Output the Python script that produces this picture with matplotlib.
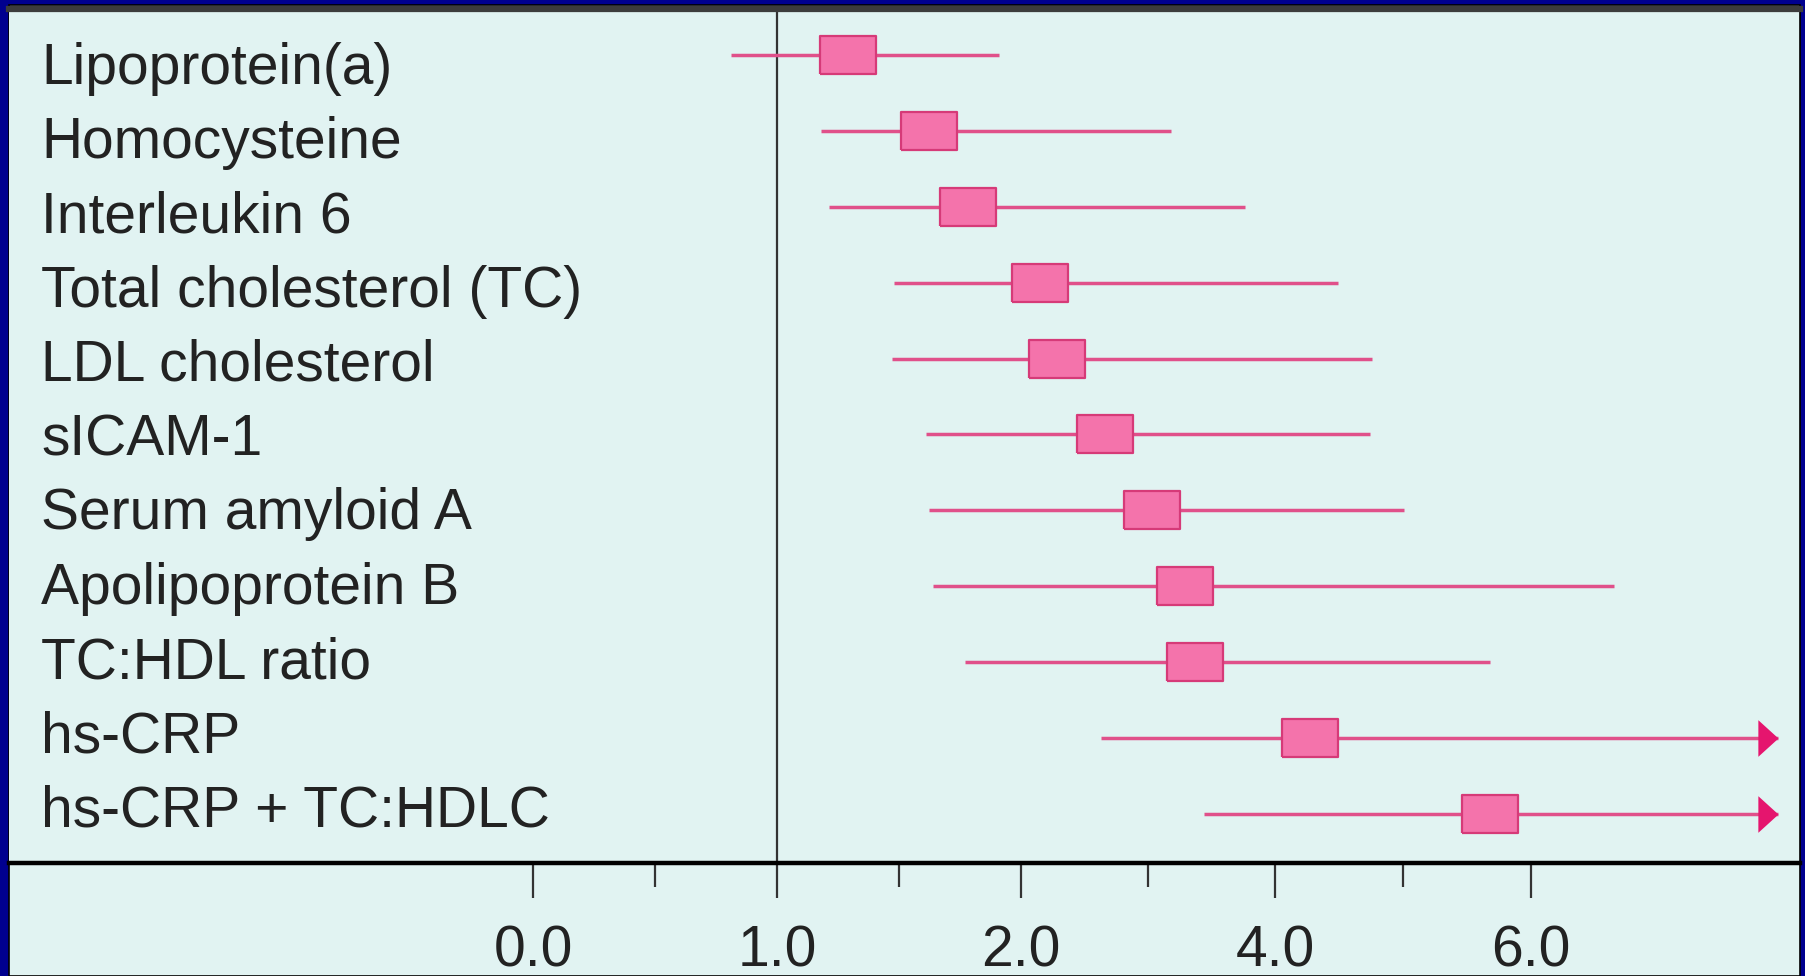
import numpy as np
import matplotlib
matplotlib.use('Agg')
import matplotlib.pyplot as plt
from matplotlib.patches import Rectangle

plt.rcParams['font.family'] = ['Liberation Sans', 'DejaVu Sans']

# Markers and their relative-risk estimates
markers = ['Lipoprotein(a)', 'Homocysteine', 'Interleukin 6', 'Total cholesterol (TC)',
           'LDL cholesterol', 'sICAM-1', 'Serum amyloid A', 'Apolipoprotein B',
           'TC:HDL ratio', 'hs-CRP', 'hs-CRP + TC:HDLC']
rr_mid = [1.29, 1.62, 1.78, 2.15, 2.28, 2.66, 3.03, 3.29, 3.37, 4.27, 5.68]
rr_lo = [0.81, 1.18, 1.21, 1.48, 1.47, 1.61, 1.62, 1.64, 1.77, 2.63, 3.44]
rr_hi = [1.91, 3.18, 3.76, 4.49, 4.76, 4.74, 5.01, 6.65, 5.68, 7.93, 7.93]
open_ended = [False, False, False, False, False, False, False, False, False, True, True]

tick_values = [0, 1, 2, 4, 6]
tick_labels = ['0.0', '1.0', '2.0', '4.0', '6.0']
minor_values = [0.5, 1.5, 3, 5]

# the printed axis puts its labelled ticks almost evenly apart
tick_pos = [0, 1, 2, 3.04, 4.09]
SLOPE_HI = (tick_pos[-1] - tick_pos[-2]) / (tick_values[-1] - tick_values[-2])


def fwd(v):
    v = np.asarray(v, dtype=float)
    p = np.interp(v, tick_values, tick_pos)
    p = np.where(v < tick_values[0], tick_pos[0] + (v - tick_values[0]), p)
    p = np.where(v > tick_values[-1], tick_pos[-1] + (v - tick_values[-1]) * SLOPE_HI, p)
    return p


def inv(p):
    p = np.asarray(p, dtype=float)
    v = np.interp(p, tick_pos, tick_values)
    v = np.where(p < tick_pos[0], tick_values[0] + (p - tick_pos[0]), v)
    v = np.where(p > tick_pos[-1], tick_values[-1] + (p - tick_pos[-1]) / SLOPE_HI, v)
    return v


BG_BLUE = '#00008f'
PANEL = '#e1f3f2'
LINE_PINK = '#e0508a'
BOX_FILL = '#f473ab'
BOX_EDGE = '#d63a78'
ARROW_PINK = '#e5156e'
TEXT = '#222222'

W, H = 1805, 976
fig = plt.figure(figsize=(W / 100, H / 100), dpi=100, facecolor=BG_BLUE)

# light panel behind everything
fig.add_artist(Rectangle((9 / W, 0), 1791 / W, (H - 5) / H, transform=fig.transFigure,
                         facecolor=PANEL, edgecolor='black', linewidth=1.2, zorder=0))

ax = fig.add_axes([9 / W, 113 / H, 1791 / W, (863 - 9) / H])
ax.set_facecolor(PANEL)
ax.set_xscale('function', functions=(fwd, inv))
ax.set_xlim(-2.15, 8.10)
ax.set_ylim(10.646, -0.606)

ax.spines['left'].set_visible(False)
ax.spines['right'].set_color('black')
ax.spines['right'].set_linewidth(1.2)
ax.spines['top'].set_color('#3c3c3c')
ax.spines['top'].set_linewidth(4.5)
ax.spines['bottom'].set_color('black')
ax.spines['bottom'].set_linewidth(3.2)

ax.set_xticks(tick_values)
ax.set_xticklabels(tick_labels)
ax.set_xticks(minor_values, minor=True)
ax.xaxis.set_minor_formatter(plt.NullFormatter())
ax.tick_params(axis='x', which='major', direction='out', length=25, width=1.6,
               color='#333333', labelsize=41, labelcolor=TEXT, pad=19)
ax.tick_params(axis='x', which='minor', direction='out', length=17, width=1.6, color='#333333')
ax.set_yticks([])

# reference line at RR = 1
ax.axvline(1.0, color='#333333', linewidth=1.6, zorder=1)

box_marker = [(-1, -0.68), (1, -0.68), (1, 0.68), (-1, 0.68), (-1, -0.68)]
arrow_marker = [(-1.1, -1), (0, 0), (-1.1, 1), (-1.1, -1)]

for i, name in enumerate(markers):
    ax.plot([rr_lo[i], rr_hi[i]], [i, i], color=LINE_PINK, linewidth=2.5,
            solid_capstyle='butt', zorder=2)
    if open_ended[i]:
        ax.plot(rr_hi[i], i, marker=arrow_marker, markersize=29, color=ARROW_PINK,
                markeredgewidth=0, linestyle='none', zorder=3)
    ax.plot(rr_mid[i], i, marker=box_marker, markersize=40.5, markerfacecolor=BOX_FILL,
            markeredgecolor=BOX_EDGE, markeredgewidth=1.6, linestyle='none', zorder=4)
    # labels sit on a slightly tighter pitch than the rows
    ax.text(32 / 1791, 0.18 + i * 0.979, name, transform=ax.get_yaxis_transform(),
            ha='left', va='center', fontsize=41, color=TEXT)

fig.savefig('out.png', dpi=100, facecolor=BG_BLUE)
